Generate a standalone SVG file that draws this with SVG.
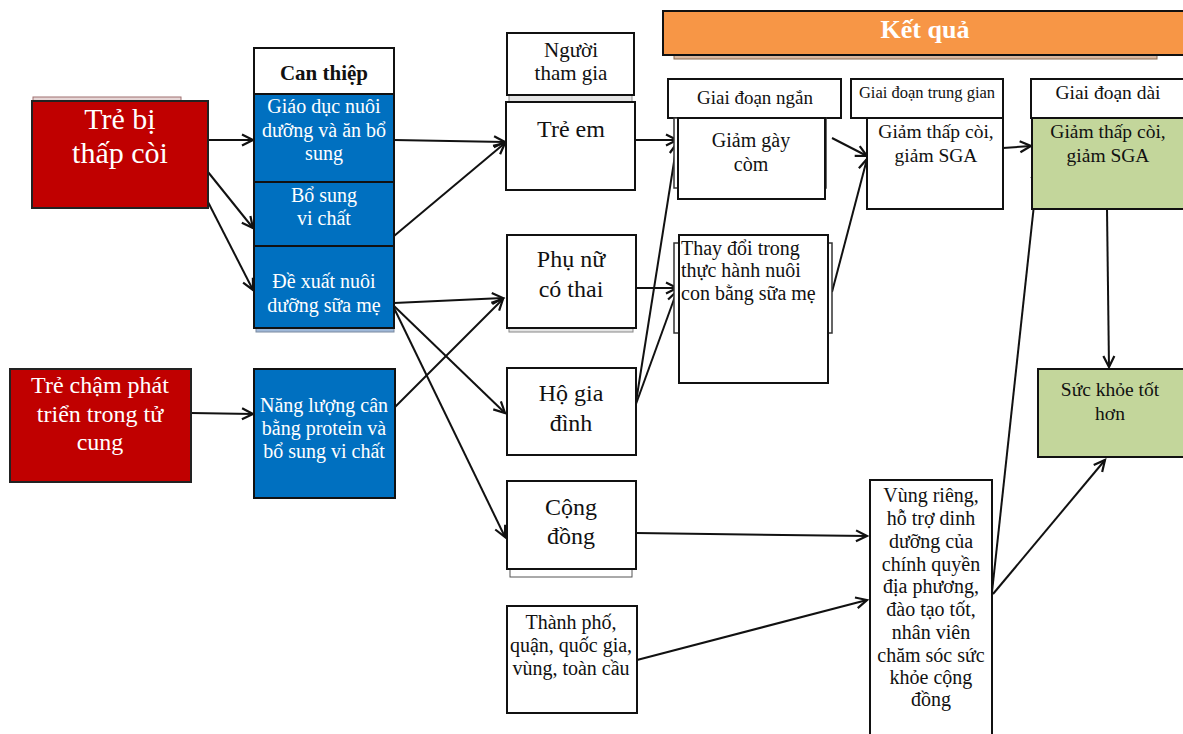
<svg xmlns="http://www.w3.org/2000/svg" width="1183" height="734" viewBox="0 0 1183 734">
<style>
text{font-family:"Liberation Serif","Times New Roman",serif;text-anchor:middle}
.red{fill:#c00000;stroke:#222;stroke-width:2}
.blue{fill:#0070c0;stroke:#111;stroke-width:2}
.wb{fill:#fff;stroke:#111;stroke-width:2}
.gr{fill:#c3d69b;stroke:#111;stroke-width:2}
.sh{fill:#e4e4e4;stroke:#888;stroke-width:1}
.wt{fill:#fff}
.bk{fill:#111}
.st{text-anchor:start}
.c line,.c path{stroke:#111;stroke-width:2;fill:none;marker-end:url(#ah)}
</style>
<defs>
<marker id="ah" markerUnits="userSpaceOnUse" markerWidth="16" markerHeight="16" refX="13" refY="7" orient="auto">
<path d="M2,1.5 L13,7 L2,12.5" fill="none" stroke="#111" stroke-width="2.2"/>
</marker>
</defs>
<rect width="1183" height="734" fill="#fff"/>

<g class="c" id="connectors">
<line x1="208" y1="140" x2="253" y2="140"/>
<line x1="208" y1="172" x2="253" y2="228"/>
<line x1="208" y1="202" x2="253" y2="290"/>
<line x1="191" y1="413" x2="253" y2="414"/>
<line x1="394" y1="140" x2="505" y2="142"/>
<line x1="394" y1="236" x2="505" y2="143"/>
<line x1="394" y1="303" x2="503" y2="298"/>
<line x1="394" y1="306" x2="505" y2="413"/>
<line x1="394" y1="308" x2="505" y2="537"/>
<line x1="394" y1="408" x2="503" y2="299"/>
<line x1="635" y1="140" x2="677" y2="140"/>
<line x1="636" y1="402" x2="677" y2="143"/>
<line x1="636" y1="288" x2="677" y2="288"/>
<line x1="636" y1="404" x2="677" y2="291"/>
<line x1="832" y1="138" x2="867" y2="156"/>
<line x1="832" y1="292" x2="867" y2="159"/>
<line x1="1003" y1="148" x2="1031" y2="146"/>
<path d="M992,592 L1038,168"/>
<line x1="993" y1="594" x2="1105" y2="460"/>
<line x1="1107" y1="209" x2="1109" y2="367"/>
<line x1="636" y1="533" x2="867" y2="536"/>
<line x1="637" y1="660" x2="867" y2="600"/>
</g>

<g id="n-stunted">
<rect x="33" y="97" width="148" height="6" fill="#e6d6d6" stroke="#a07070" stroke-width="1"/>
<rect class="red" x="32" y="101" width="176" height="107"/>
<text class="wt" x="120" y="129" font-size="30">Trẻ bị</text>
<text class="wt" x="120" y="163" font-size="30">thấp còi</text>
</g>

<g id="n-iugr">
<rect class="red" x="10" y="369" width="181" height="113"/>
<text class="wt" x="100" y="393" font-size="24">Trẻ chậm phát</text>
<text class="wt" x="100" y="422" font-size="24">triển trong tử</text>
<text class="wt" x="100" y="450" font-size="24">cung</text>
</g>

<g id="n-intervention">
<rect x="256" y="326" width="138" height="6" fill="#9fb8d8" stroke="#7a8aa0" stroke-width="1"/>
<rect class="wb" x="254" y="48" width="140" height="46"/>
<text class="bk" x="324" y="80" font-size="21" font-weight="bold">Can thiệp</text>
<rect class="blue" x="254" y="94" width="140" height="88"/>
<text class="wt" x="324" y="113" font-size="20">Giáo dục nuôi</text>
<text class="wt" x="324" y="137" font-size="20">dưỡng và ăn bổ</text>
<text class="wt" x="324" y="160" font-size="20">sung</text>
<rect class="blue" x="254" y="182" width="140" height="64"/>
<text class="wt" x="324" y="202" font-size="20">Bổ sung</text>
<text class="wt" x="324" y="225" font-size="20">vi chất</text>
<rect class="blue" x="254" y="246" width="140" height="82"/>
<text class="wt" x="324" y="288" font-size="20">Đề xuất nuôi</text>
<text class="wt" x="324" y="312" font-size="20">dưỡng sữa mẹ</text>
</g>

<g id="n-energy">
<rect class="blue" x="254" y="369" width="141" height="129"/>
<text class="wt" x="324" y="412" font-size="20">Năng lượng cân</text>
<text class="wt" x="324" y="435" font-size="20">bằng protein và</text>
<text class="wt" x="324" y="458" font-size="20">bổ sung vi chất</text>
</g>

<g id="n-participants">
<rect class="sh" x="509" y="95" width="123" height="7"/>
<rect class="wb" x="507" y="33" width="127" height="62"/>
<text class="bk" x="571" y="57" font-size="21">Người</text>
<text class="bk" x="571" y="80" font-size="21">tham gia</text>
</g>

<g id="n-children">
<rect class="wb" x="506" y="102" width="129" height="88"/>
<text class="bk" x="571" y="137" font-size="24">Trẻ em</text>
</g>

<g id="n-pregnant">
<rect class="sh" x="509" y="326" width="124" height="6"/>
<rect class="wb" x="507" y="235" width="129" height="93"/>
<text class="bk" x="571" y="267" font-size="24">Phụ nữ</text>
<text class="bk" x="571" y="297" font-size="24">có thai</text>
</g>

<g id="n-household">
<rect class="wb" x="507" y="368" width="129" height="87"/>
<text class="bk" x="571" y="401" font-size="24">Hộ gia</text>
<text class="bk" x="571" y="431" font-size="24">đình</text>
</g>

<g id="n-community">
<rect x="510" y="569" width="122" height="8" fill="#fff" stroke="#555" stroke-width="1"/>
<rect class="wb" x="507" y="481" width="129" height="88"/>
<text class="bk" x="571" y="515" font-size="24">Cộng</text>
<text class="bk" x="571" y="544" font-size="24">đồng</text>
</g>

<g id="n-city">
<rect class="wb" x="507" y="606" width="130" height="107"/>
<text class="bk" x="571" y="629" font-size="20">Thành phố,</text>
<text class="bk" x="571" y="652" font-size="20">quận, quốc gia,</text>
<text class="bk" x="571" y="675" font-size="20">vùng, toàn cầu</text>
</g>

<g id="n-results">
<rect x="674" y="54" width="483" height="5" fill="#d9b8a0" stroke="#8a6a50" stroke-width="1"/>
<rect x="663" y="11" width="522" height="44" fill="#f79646" stroke="#111" stroke-width="2"/>
<text class="wt" x="925" y="38" font-size="26" font-weight="bold">Kết quả</text>
</g>

<g id="n-short">
<rect class="wb" x="668" y="79" width="173" height="39"/>
<text class="bk" x="755" y="104" font-size="19">Giai đoạn ngắn</text>
</g>

<g id="n-wasting">
<rect x="674" y="118" width="152" height="70" fill="#fff" stroke="#333" stroke-width="1.5"/>
<rect class="wb" x="678" y="118" width="147" height="81"/>
<text class="bk" x="751" y="147" font-size="20">Giảm gày</text>
<text class="bk" x="751" y="171" font-size="20">còm</text>
</g>

<g id="n-mid">
<rect class="wb" x="851" y="79" width="152" height="39"/>
<text class="bk" x="927" y="98" font-size="16.5">Giai đoạn trung gian</text>
</g>

<g id="n-mid-result">
<rect class="wb" x="867" y="118" width="136" height="91"/>
<text class="bk" x="936" y="138" font-size="19.5">Giảm thấp còi,</text>
<text class="bk" x="936" y="162" font-size="19.5">giảm SGA</text>
</g>

<g id="n-long">
<rect class="wb" x="1031" y="79" width="154" height="39"/>
<text class="bk" x="1108" y="99" font-size="19.5">Giai đoạn dài</text>
</g>

<g id="n-long-result">
<rect class="gr" x="1032" y="118" width="153" height="91"/>
<text class="bk" x="1108" y="138" font-size="19.5">Giảm thấp còi,</text>
<text class="bk" x="1108" y="162" font-size="19.5">giảm SGA</text>
</g>

<g id="n-breastfeeding">
<rect x="674" y="243" width="158" height="90" fill="#fff" stroke="#333" stroke-width="1.5"/>
<rect class="wb" x="679" y="235" width="149" height="148"/>
<text class="bk st" x="681" y="255" font-size="20">Thay đổi trong</text>
<text class="bk st" x="681" y="277" font-size="20">thực hành nuôi</text>
<text class="bk st" x="681" y="300" font-size="20">con bằng sữa mẹ</text>
</g>

<g id="n-health">
<rect class="gr" x="1038" y="369" width="147" height="88"/>
<text class="bk" x="1110" y="396" font-size="19.5">Sức khỏe tốt</text>
<text class="bk" x="1110" y="420" font-size="19.5">hơn</text>
</g>

<g id="n-local">
<rect class="wb" x="870" y="480" width="122" height="260"/>
<text class="bk" x="931" y="502" font-size="20">Vùng riêng,</text>
<text class="bk" x="931" y="525" font-size="20">hỗ trợ dinh</text>
<text class="bk" x="931" y="548" font-size="20">dưỡng của</text>
<text class="bk" x="931" y="571" font-size="20">chính quyền</text>
<text class="bk" x="931" y="593" font-size="20">địa phương,</text>
<text class="bk" x="931" y="616" font-size="20">đào tạo tốt,</text>
<text class="bk" x="931" y="639" font-size="20">nhân viên</text>
<text class="bk" x="931" y="662" font-size="20">chăm sóc sức</text>
<text class="bk" x="931" y="684" font-size="20">khỏe cộng</text>
<text class="bk" x="931" y="706" font-size="20">đồng</text>
</g>
</svg>
